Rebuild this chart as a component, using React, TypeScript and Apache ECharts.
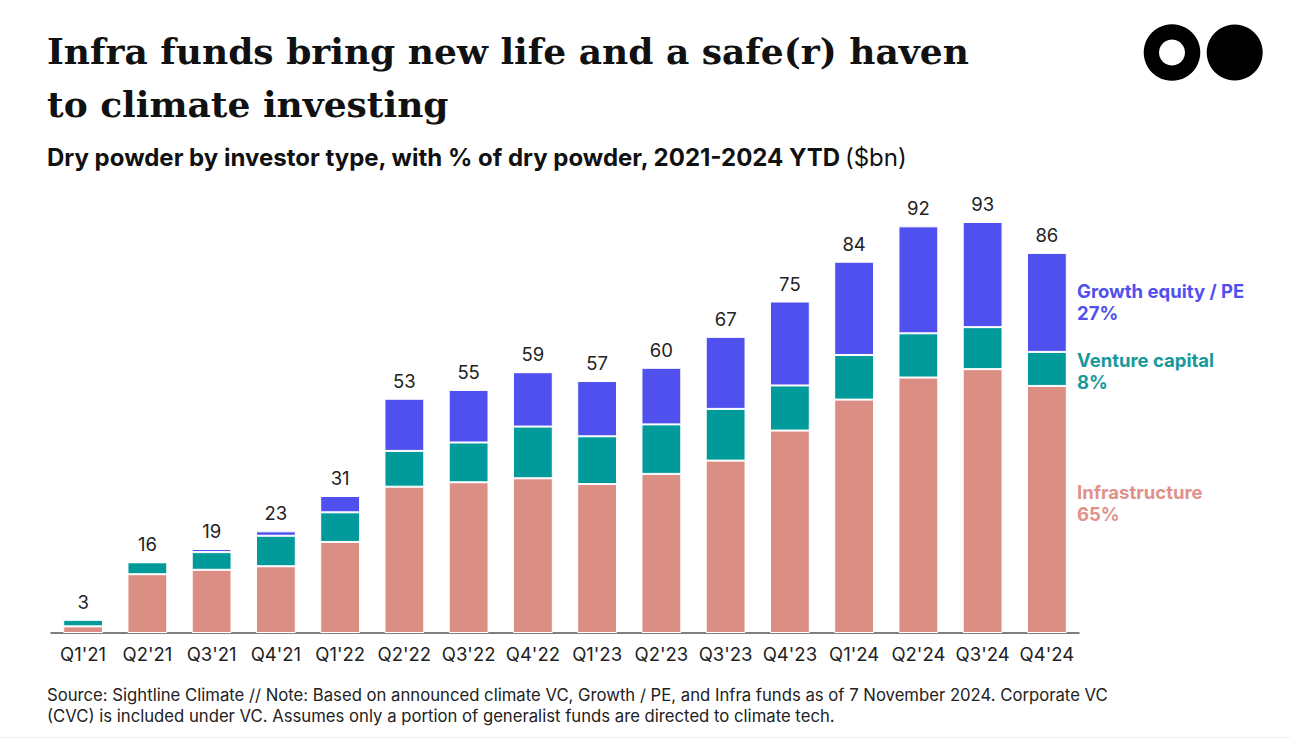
import React, { useEffect, useRef } from "react";
import * as echarts from "echarts";

const categories = ["Q1'21", "Q2'21", "Q3'21", "Q4'21", "Q1'22", "Q2'22", "Q3'22", "Q4'22", "Q1'23", "Q2'23", "Q3'23", "Q4'23", "Q1'24", "Q2'24", "Q3'24", "Q4'24"];
const infra = [1.5, 13.3, 14.3, 15.1, 20.6, 33.1, 34.1, 35.0, 33.7, 36.0, 39.0, 45.8, 52.8, 57.8, 59.7, 55.9];
const vc = [1.5, 2.7, 4.0, 6.9, 6.7, 8.1, 9.0, 11.7, 10.8, 11.2, 11.7, 10.2, 10.1, 10.0, 9.5, 7.7];
const pe = [0, 0, 0.7, 1.0, 3.7, 11.8, 11.9, 12.3, 12.5, 12.8, 16.3, 19.0, 21.1, 24.2, 23.8, 22.4];
const totals = [3, 16, 19, 23, 31, 53, 55, 59, 57, 60, 67, 75, 84, 92, 93, 86];

const BLUE = "#5050EE";
const TEAL = "#009A9A";
const PINK = "#DB8E84";
const SANS = "Inter, 'Noto Sans', sans-serif";

export default function App() {
  const ref = useRef<HTMLDivElement>(null);
  useEffect(() => {
    const chart = echarts.init(ref.current!, null, { renderer: "svg" });
    const barBase = {
      type: "bar" as const,
      stack: "total",
      barWidth: "62%",
      itemStyle: { borderColor: "#ffffff", borderWidth: 1 },
    };
    chart.setOption({
      animation: false,
      backgroundColor: "#ffffff",
      grid: { left: 51, width: 1028, top: 191, height: 442 },
      xAxis: {
        type: "category",
        data: categories,
        axisLine: { show: true, lineStyle: { color: "#555555", width: 1.5 } },
        axisTick: { show: false },
        axisLabel: { color: "#222222", fontFamily: SANS, fontSize: 18.5, margin: 11, interval: 0 },
      },
      yAxis: { type: "value", min: 0, max: 100, show: false, splitLine: { show: false } },
      series: [
        { ...barBase, name: "Infrastructure", data: infra, itemStyle: { ...barBase.itemStyle, color: PINK } },
        { ...barBase, name: "Venture capital", data: vc, itemStyle: { ...barBase.itemStyle, color: TEAL } },
        { ...barBase, name: "Growth equity / PE", data: pe, itemStyle: { ...barBase.itemStyle, color: BLUE } },
        {
          type: "line",
          name: "Total",
          data: totals,
          symbol: "circle",
          symbolSize: 1,
          showSymbol: true,
          itemStyle: { color: "rgba(0,0,0,0)" },
          lineStyle: { width: 0, color: "rgba(0,0,0,0)" },
          label: {
            show: true,
            position: "top",
            distance: 8,
            color: "#222222",
            fontFamily: SANS,
            fontSize: 18.5,
            formatter: (p: any) => String(p.value),
          },
          z: 5,
        },
      ],
      graphic: [
        {
          type: "text",
          left: 47,
          top: 24,
          style: {
            text: "Infra funds bring new life and a safe(r) haven\nto climate investing",
            font: "bold 36px 'DejaVu Serif', serif",
            fill: "#111111",
            lineHeight: 53,
          },
        },
        {
          type: "text",
          left: 47,
          top: 145,
          style: {
            text: "{b|Dry powder by investor type, with % of dry powder, 2021-2024 YTD} {r|($bn)}",
            rich: {
              b: { fontFamily: SANS, fontWeight: "bold", fontSize: 24, fill: "#111111" },
              r: { fontFamily: SANS, fontWeight: "normal", fontSize: 24, fill: "#111111" },
            },
          },
        },
        { type: "ring", shape: { cx: 1172, cy: 52.5, r: 28.3, r0: 13 }, style: { fill: "#000000" } },
        { type: "circle", shape: { cx: 1234.7, cy: 52.5, r: 28 }, style: { fill: "#000000" } },
        {
          type: "text",
          left: 1077,
          top: 280,
          style: { text: "Growth equity / PE\n27%", font: "bold 18.5px Inter, sans-serif", fill: BLUE, lineHeight: 22 },
        },
        {
          type: "text",
          left: 1077,
          top: 349,
          style: { text: "Venture capital\n8%", font: "bold 18.5px Inter, sans-serif", fill: "#17999A", lineHeight: 22 },
        },
        {
          type: "text",
          left: 1077,
          top: 481,
          style: { text: "Infrastructure\n65%", font: "bold 18.5px Inter, sans-serif", fill: "#E0928A", lineHeight: 22 },
        },
        {
          type: "text",
          left: 47,
          top: 684,
          style: {
            text:
              "Source: Sightline Climate // Note: Based on announced climate VC, Growth / PE, and Infra funds as of 7 November 2024. Corporate VC\n(CVC) is included under VC. Assumes only a portion of generalist funds are directed to climate tech.",
            font: "16.7px Inter, sans-serif",
            fill: "#222222",
            lineHeight: 21,
          },
        },
        { type: "rect", shape: { x: 0, y: 737, width: 1290, height: 1 }, style: { fill: "#eeeeee" } },
      ],
    });
    return () => chart.dispose();
  }, []);
  return (
    <div
      ref={ref}
      style={{ position: "absolute", left: 0, top: 0, width: 1290, height: 752, background: "#fff" }}
    />
  );
}
